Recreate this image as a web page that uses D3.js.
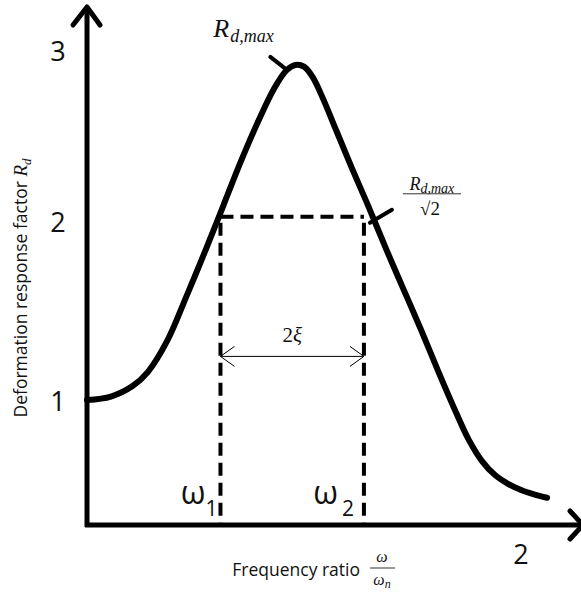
<!DOCTYPE html>
<html>
<head>
<meta charset="utf-8">
<script src="https://cdn.jsdelivr.net/npm/d3@7"></script>
<style>
  body { margin: 0; background: #fff; }
  text { font-family: "Open Sans", sans-serif; fill: #111; }
  .math { font-family: "Liberation Serif", "DejaVu Serif", serif; font-style: italic; }
</style>
</head>
<body>
<div id="drawing_region"></div>
<script>
// frequency ratio w/wn and deformation response factor Rd
const ratio    = [0.00, 0.11, 0.21, 0.28, 0.37, 0.46, 0.55, 0.63, 0.71, 0.79, 0.86, 0.92, 0.96,
                  1.00, 1.04, 1.09, 1.15, 1.22, 1.30, 1.38, 1.46, 1.54, 1.62, 1.70, 1.76, 1.82, 1.88, 1.94, 2.00, 2.06, 2.12];
const response = [1.00, 1.02, 1.08, 1.16, 1.34, 1.60, 1.87, 2.12, 2.37, 2.60, 2.78, 2.89, 2.92,
                  2.91, 2.85, 2.72, 2.54, 2.33, 2.10, 1.86, 1.63, 1.40, 1.16, 0.93, 0.77, 0.65, 0.57, 0.52, 0.485, 0.46, 0.44];
const yTicks = [1, 2, 3];
const xTicks = [2];
const omega1 = 0.615;      // half-power frequencies
const omega2 = 1.276;
const halfPower = 2.05;    // Rd,max / sqrt(2)
const bandLevel = 1.25;    // height of the 2xi arrow

const width = 581, height = 592;
const svg = d3.select('#drawing_region').append('svg')
    .attr('width', width).attr('height', height);

const xscale = d3.scaleLinear().domain([0, 2.267]).range([87, 579]);
const yscale = d3.scaleLinear().domain([0.284, 3.252]).range([525, 7]);
const [x0, x1] = xscale.range();
const [y0, y1] = yscale.range();

// axes
svg.append('line').attr('x1', x0).attr('x2', x0).attr('y1', y0 + 2).attr('y2', y1)
    .attr('stroke', '#000').attr('stroke-width', 5);
svg.append('line').attr('x1', x0 - 2).attr('x2', x1 + 4).attr('y1', y0).attr('y2', y0)
    .attr('stroke', '#000').attr('stroke-width', 5);
svg.append('path')
    .attr('d', `M${x0 - 14},${y1 + 18} L${x0},${y1} L${x0 + 13},${y1 + 18}`)
    .attr('fill', 'none').attr('stroke', '#000').attr('stroke-width', 5)
    .attr('stroke-linecap', 'round').attr('stroke-linejoin', 'round');
svg.append('path')
    .attr('d', `M${x1 - 9},${y0 - 14} L${x1 + 4},${y0} L${x1 - 9},${y0 + 14}`)
    .attr('fill', 'none').attr('stroke', '#000').attr('stroke-width', 5)
    .attr('stroke-linecap', 'round').attr('stroke-linejoin', 'round');

// tick labels
svg.selectAll('.ytick').data(yTicks).join('text')
    .attr('x', x0 - 29).attr('y', d => yscale(d) - (d === 2 ? 4 : 0))
    .attr('text-anchor', 'middle').attr('dominant-baseline', 'central')
    .attr('font-size', 27).text(d => d);
svg.selectAll('.xtick').data(xTicks).join('text')
    .attr('x', d => xscale(d)).attr('y', y0 + 28)
    .attr('text-anchor', 'middle').attr('dominant-baseline', 'central')
    .attr('font-size', 27).text(d => d);

// dashed half-power lines
const dash = { stroke: '#000', 'stroke-width': 4, 'stroke-dasharray': '13,7' };
const addLine = (a, b, c, d, st) => {
    const l = svg.append('line').attr('x1', a).attr('y1', b).attr('x2', c).attr('y2', d);
    Object.entries(st).forEach(([k, v]) => l.attr(k, v));
    return l;
};
addLine(xscale(omega1), yscale(halfPower), xscale(omega2), yscale(halfPower), dash);
[omega1, omega2].forEach(w => addLine(xscale(w), yscale(halfPower) + 6, xscale(w), y0, dash));

// 2xi arrow
const ay = yscale(bandLevel);
addLine(xscale(omega1), ay, xscale(omega2), ay, { stroke: '#000', 'stroke-width': 1 });
svg.append('path')
    .attr('d', `M${xscale(omega1) + 14},${ay - 10} L${xscale(omega1)},${ay} L${xscale(omega1) + 14},${ay + 10}` +
               `M${xscale(omega2) - 14},${ay - 10} L${xscale(omega2)},${ay} L${xscale(omega2) - 14},${ay + 10}`)
    .attr('fill', 'none').attr('stroke', '#000').attr('stroke-width', 1);
const xi = svg.append('text').attr('class', 'math')
    .attr('x', (xscale(omega1) + xscale(omega2)) / 2).attr('y', ay - 14)
    .attr('text-anchor', 'middle').attr('font-size', 21).style('font-style', 'normal');
xi.append('tspan').text('2');
xi.append('tspan').style('font-style', 'italic').text('ξ');

// response curve
const line = d3.line()
    .x(d => xscale(d[0]))
    .y(d => yscale(d[1]))
    .curve(d3.curveCatmullRom);
svg.append('path')
    .attr('d', line(d3.zip(ratio, response)))
    .attr('fill', 'none').attr('stroke', '#000').attr('stroke-width', 6)
    .attr('stroke-linecap', 'round').attr('stroke-linejoin', 'round');

// omega labels
[[omega1, '1', 3], [omega2, '2', 10]].forEach(([w, s, gap]) => {
    const t = svg.append('text').attr('x', xscale(w) - gap).attr('y', y0 - 9)
        .attr('text-anchor', 'end');
    t.append('tspan').attr('font-size', 32).attr('dy', -12).text('ω');
    t.append('tspan').attr('font-size', 21).attr('dx', s === '2' ? 4 : 0).attr('dy', 12).text(s);
});

// Rd,max annotation
const ip = response.indexOf(d3.max(response));
const px = xscale(ratio[ip]), py = yscale(response[ip]);
addLine(px - 25, py - 8, px - 11, py + 3, { stroke: '#000', 'stroke-width': 4, 'stroke-linecap': 'round' });
const rmax = svg.append('text').attr('class', 'math')
    .attr('x', px - 82).attr('y', py - 28).attr('font-size', 26);
rmax.append('tspan').text('R');
rmax.append('tspan').attr('font-size', 18).attr('dy', 5).attr('dx', 1).text('d,max');

// Rd,max / sqrt2 annotation
const hx = xscale(omega2), hy = yscale(halfPower);
addLine(hx + 6, hy + 6, hx + 28, hy - 7, { stroke: '#000', 'stroke-width': 4, 'stroke-linecap': 'round' });
const fx = hx + 68;
const num = svg.append('text').attr('class', 'math')
    .attr('x', fx).attr('y', hy - 27).attr('text-anchor', 'middle').attr('font-size', 18);
num.append('tspan').text('R');
num.append('tspan').attr('font-size', 14).attr('dy', 3).text('d,max');
addLine(fx - 29, hy - 23, fx + 29, hy - 23, { stroke: '#333', 'stroke-width': 1 });
svg.append('text').attr('class', 'math').style('font-style', 'normal')
    .attr('x', fx - 2).attr('y', hy - 2).attr('text-anchor', 'middle').attr('font-size', 19)
    .text('√2');

// axis titles
svg.append('text').attr('x', 360).attr('y', 576)
    .attr('text-anchor', 'end').attr('font-size', 17.5).text('Frequency ratio ');
addLine(370, 568, 395, 568, { stroke: '#333', 'stroke-width': 1 });
svg.append('text').attr('class', 'math').attr('x', 382).attr('y', 562)
    .attr('text-anchor', 'middle').attr('font-size', 16).text('ω');
const den = svg.append('text').attr('class', 'math').attr('x', 382).attr('y', 585)
    .attr('text-anchor', 'middle').attr('font-size', 16);
den.append('tspan').text('ω');
den.append('tspan').attr('font-size', 12).attr('dy', 3).text('n');

const yt = svg.append('text')
    .attr('transform', 'translate(27,288) rotate(-90)')
    .attr('text-anchor', 'middle').attr('font-size', 17.5);
yt.append('tspan').text('Deformation response factor ');
yt.append('tspan').attr('class', 'math').attr('font-size', 19).text('R');
yt.append('tspan').attr('class', 'math').attr('font-size', 13).attr('dy', 4).text('d');
</script>
</body>
</html>
